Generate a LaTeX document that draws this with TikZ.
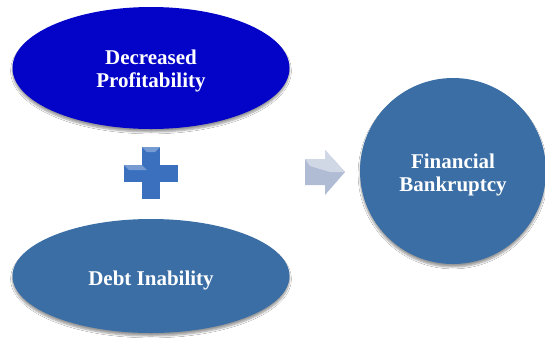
\documentclass[tikz,border=0pt]{standalone}
\usepackage{fontspec}
\setmainfont{Liberation Serif}
\usetikzlibrary{shapes.geometric,shadows.blur}
\definecolor{deepblue}{RGB}{4,4,200}
\definecolor{steel}{RGB}{58,110,165}
\definecolor{plusblue}{RGB}{58,112,190}
\definecolor{arrowgray}{RGB}{176,188,212}
\tikzset{
  oval/.style={ellipse, draw=none, inner sep=0pt, blur shadow={shadow xshift=0pt, shadow yshift=-3pt, shadow blur steps=6, shadow opacity=40}},
  lbl/.style={text=white, font=\bfseries\fontsize{21}{23}\selectfont, align=center, inner sep=0pt}
}
\begin{document}
\begin{tikzpicture}[x=1pt,y=-1pt]
\useasboundingbox[fill=white] (0,0) rectangle (545,338);
\node[oval, fill=deepblue, minimum width=277pt, minimum height=122pt] (dp) at (151,68) {};
\node[lbl] (dpt) at ([yshift=-3pt]dp.center) {Decreased\\Profitability};
\node[oval, fill=steel, minimum width=277pt, minimum height=114pt] (di) at (151,276) {};
\node[lbl] (dit) at ([yshift=-4pt]di.center) {Debt Inability};
\node[oval, circle, fill=steel, minimum size=186pt] (fb) at (453,171) {};
\node[lbl] (fbt) at ([yshift=-4pt]fb.center) {Financial\\Bankruptcy};
% plus sign
\coordinate (plus) at (151,173);
\fill[plusblue] (142,147) rectangle (160,199);
\fill[plusblue] (124,165) rectangle (178,182);
\fill[plusblue!70!white] (142,147) -- (160,147) -- (155,152) -- (147,152) -- cycle;
\fill[plusblue!70!white] (124,165) -- (142,165) -- (147,170) -- (129,170) -- cycle;
% arrow
\coordinate (arr) at (325,172);
\fill[arrowgray] (305,159) -- (325,159) -- (325,150) -- (345,172) -- (325,195) -- (325,185) -- (305,185) -- cycle;
\fill[arrowgray!60!white] (305,159) -- (325,159) -- (325,150) -- (345,172) -- (330,172) -- (310,166) -- cycle;
\end{tikzpicture}
\end{document}
